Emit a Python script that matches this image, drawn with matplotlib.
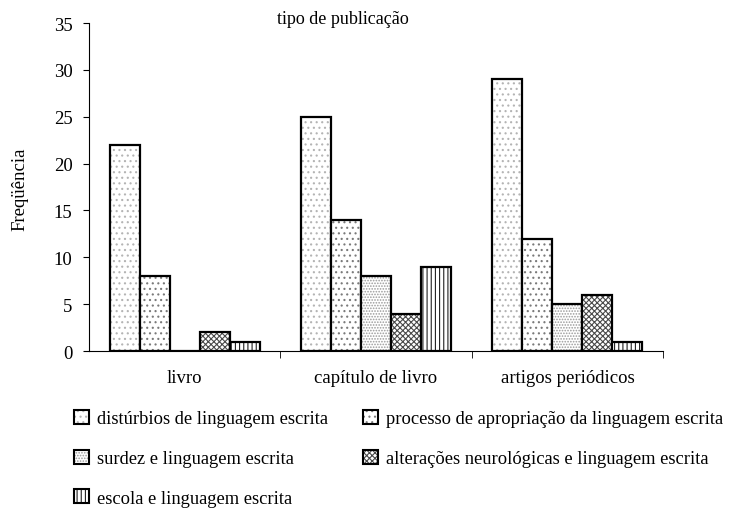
import numpy as np
import matplotlib
matplotlib.use("Agg")
import matplotlib.pyplot as plt
import matplotlib.patches as mpatches

categories = ["livro", "capítulo de livro", "artigos periódicos"]
series = ["distúrbios de linguagem escrita",
          "processo de apropriação da linguagem escrita",
          "surdez e linguagem escrita",
          "alterações neurológicas e linguagem escrita",
          "escola e linguagem escrita"]
values = [
    [22, 25, 29],
    [8, 14, 12],
    [0, 8, 5],
    [2, 4, 6],
    [1, 9, 1],
]

hatches = ["...", "...", "......", "xxxxxx", "||||"]
hatch_colors = ["#b4b4b4", "#7a7a7a", "#9a9a9a", "#4a4a4a", "#202020"]

plt.rcParams["font.family"] = ["Liberation Serif", "DejaVu Serif"]
plt.rcParams["hatch.linewidth"] = 0.8

fig = plt.figure(figsize=(7.36, 5.10), dpi=100)
ax = fig.add_axes([0.1209, 0.3098, 0.78, 0.643])

x = np.arange(len(categories))
w = 0.157
handles = []
for i, (name, vals) in enumerate(zip(series, values)):
    pos = x + (i - 2) * w
    ax.bar(pos, vals, w, color="white", edgecolor=hatch_colors[i],
           hatch=hatches[i], linewidth=0)
    ax.bar(pos, vals, w, fill=False, edgecolor="black", linewidth=1.6)
    h1 = mpatches.Patch(facecolor="white", edgecolor=hatch_colors[i],
                        hatch=hatches[i], linewidth=0)
    h2 = mpatches.Patch(fill=False, edgecolor="black", linewidth=1.5)
    handles.append((h1, h2))

ax.set_xlim(-0.5, 2.5)
ax.set_ylim(0, 35)
ax.set_yticks(range(0, 36, 5))
ax.set_xticks(x)
ax.set_xticklabels(categories)
ax.set_xticks([0.5, 1.5, 2.5], minor=True)
ax.tick_params(axis="x", which="major", length=0, pad=13, labelsize=13.5)
ax.tick_params(axis="x", which="minor", length=5, direction="out")
ax.tick_params(axis="y", length=4.3, labelsize=13.5, pad=7.5)
ax.spines["top"].set_visible(False)
ax.spines["right"].set_visible(False)

fig.text(0.027, 0.629, "Freqüência", rotation=90, ha="center", va="center",
         fontsize=13.5)
fig.text(0.466, 0.961, "tipo de publicação", ha="center", va="center",
         fontsize=13)

order = [0, 2, 4, 1, 3]
fig.legend([handles[k] for k in order], [series[k] for k in order],
           ncol=2, loc="upper left", bbox_to_anchor=(74 / 736, 1 - 411 / 510),
           frameon=False, fontsize=13.3, handlelength=0.8, handleheight=0.8,
           handletextpad=0.45, columnspacing=1.9, labelspacing=1.2,
           borderpad=0, borderaxespad=0)

fig.savefig("out.png", dpi=100)
